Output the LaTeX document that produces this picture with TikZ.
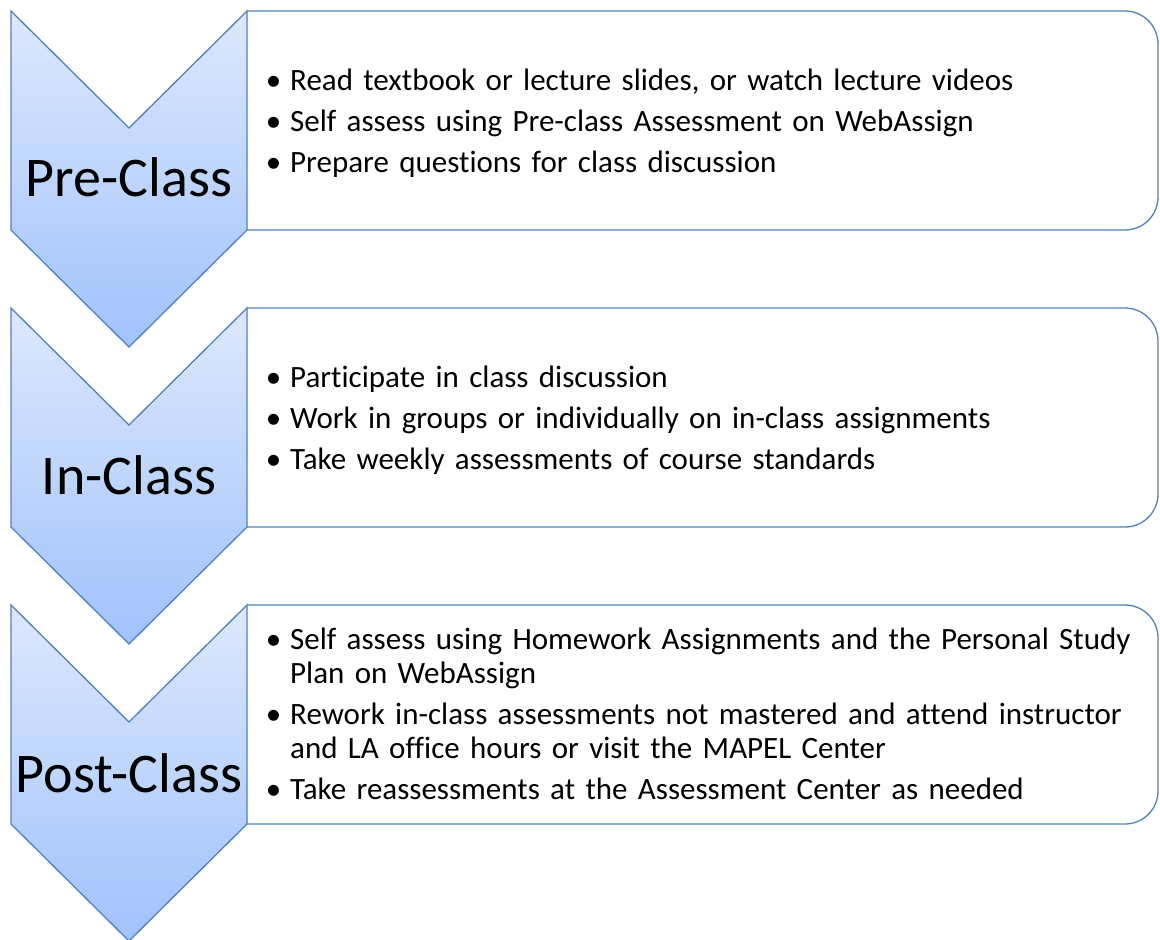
\documentclass[tikz,border=0pt]{standalone}
\usepackage{fontspec}
\setmainfont[Ligatures=NoCommon]{Carlito}
\usepackage{enumitem}
\definecolor{stageline}{RGB}{79,129,189}
\definecolor{stagetop}{RGB}{221,232,252}
\definecolor{stagebottom}{RGB}{160,194,252}
\setlist[itemize]{label=\textbullet,leftmargin=19pt,labelsep=9pt,itemsep=7pt,topsep=0pt,parsep=0pt,partopsep=0pt}
\tikzset{chevron/.style={draw=stageline,line width=1.3pt,top color=stagetop,bottom color=stagebottom},
  stagebox/.style={draw=stageline,line width=1.3pt},
  stagelabel/.style={inner sep=0pt,font=\fontsize{56}{66}\selectfont},
  stagetext/.style={anchor=west,inner sep=0pt,text width=900pt,align=left,font=\fontsize{31}{34}\selectfont}}

\begin{document}
\begin{tikzpicture}[x=1pt,y=-1pt]
\useasboundingbox (0,0) rectangle (1160,940);
% boxes first, chevrons on top of their left edges
\foreach \t in {11,308,605} {
  \draw[stagebox] (247,\t) [rounded corners=33pt] -- (1158,\t) -- (1158,\t+219) -- (247,\t+219);
  \path[chevron] (11,\t) -- (129,\t+117) -- (247,\t) -- (247,\t+219) -- (129,\t+336) -- (11,\t+219) -- cycle;
}
\node[stagelabel] (pre) at (129,177) {Pre-Class};
\node[stagelabel] (in) at (129,475) {In-Class};
\node[stagelabel] (post) at (129,773) {Post-Class};
\node[stagetext] (pretext) at (271,117) {\begin{itemize}
  \item Read textbook or lecture slides, or watch lecture videos
  \item Self assess using Pre-class Assessment on WebAssign
  \item Prepare questions for class discussion
\end{itemize}};
\node[stagetext] (intext) at (271,414) {\begin{itemize}
  \item Participate in class discussion
  \item Work in groups or individually on in-class assignments
  \item Take weekly assessments of course standards
\end{itemize}};
\node[stagetext] (posttext) at (271,708) {\begin{itemize}
  \item Self assess using Homework Assignments and the Personal Study\newline Plan on WebAssign
  \item Rework in-class assessments not mastered and attend instructor\newline and LA office hours or visit the MAPEL Center
  \item Take reassessments at the Assessment Center as needed
\end{itemize}};
\end{tikzpicture}
\end{document}
